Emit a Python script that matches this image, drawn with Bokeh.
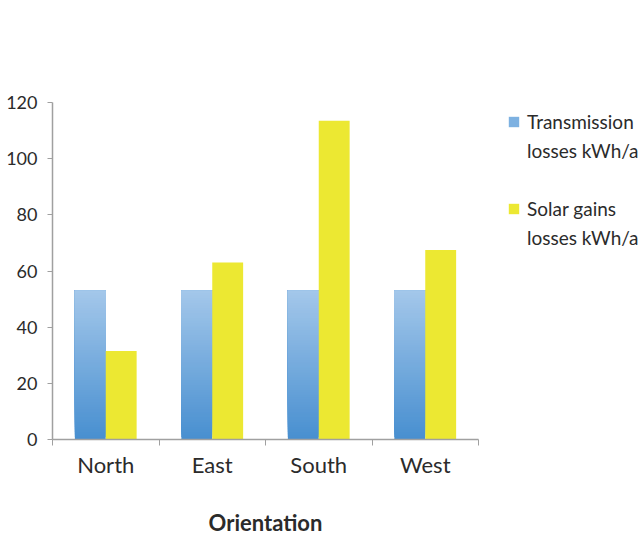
from bokeh.plotting import figure
from bokeh.models import FixedTicker, Legend, LegendItem
from bokeh.embed import file_html
from bokeh.resources import INLINE

categories = ["North", "East", "South", "West"]
transmission = [53, 53, 53, 53]
solar = [31.5, 63, 113.5, 67.5]
y_ticks = [0, 20, 40, 60, 80, 100, 120]
legend_lines = [["Transmission", "losses kWh/a"], ["Solar gains", "losses kWh/a"]]

FONT = "Lato"
BAR_W = 0.29
AXIS_COLOR = "#a0a0a0"
TEXT_COLOR = "#2b2b2b"

p = figure(frame_width=426, frame_height=337, x_range=(0, 4), y_range=(0, 120),
           output_backend="svg", toolbar_location=None,
           min_border_left=52, min_border_top=102, min_border_bottom=94,
           min_border_right=150)
p.outline_line_color = None
p.xgrid.visible = False
p.ygrid.visible = False
p.background_fill_color = "white"

centers = [i + 0.5 for i in range(len(categories))]
blue_x = [c - BAR_W / 2 for c in centers]
yel_x = [c + BAR_W / 2 for c in centers]

# gradient for blue bars: overlapping slices, each reaching the bar top
N = 60
top_c = (0xA3, 0xC7, 0xEA)
bot_c = (0x48, 0x8F, 0xD0)
xs, bots, tops, cols = [], [], [], []
for x, v in zip(blue_x, transmission):
    for k in range(N):
        t = k / (N - 1)
        c = tuple(int(round(bot_c[j] + (top_c[j] - bot_c[j]) * t)) for j in range(3))
        xs.append(x)
        bots.append(v * k / N)
        tops.append(v)
        cols.append("#%02x%02x%02x" % c)
p.vbar(x=xs, bottom=bots, top=tops, width=BAR_W, fill_color=cols, line_color=None)
r_yel = p.vbar(x=yel_x, top=solar, width=BAR_W, fill_color="#ece832", line_color=None)

# legend proxies
r_blue_leg = p.vbar(x=[blue_x[0]], top=[0], width=BAR_W, fill_color="#7db1e1", line_color=None)
r_blank = p.vbar(x=[blue_x[0]], top=[0], width=BAR_W, fill_alpha=0, line_alpha=0)

items = [
    LegendItem(label=legend_lines[0][0], renderers=[r_blue_leg]),
    LegendItem(label=legend_lines[0][1], renderers=[r_blank]),
    LegendItem(label=" ", renderers=[r_blank]),
    LegendItem(label=legend_lines[1][0], renderers=[r_yel]),
    LegendItem(label=legend_lines[1][1], renderers=[r_blank]),
]
legend = Legend(items=items, location=(29, 187), orientation="vertical")
legend.border_line_color = None
legend.background_fill_alpha = 0
legend.padding = 0
legend.margin = 0
legend.glyph_width = 13
legend.glyph_height = 13
legend.label_standoff = 7
legend.spacing = 0
legend.label_height = 29
legend.label_text_font = FONT
legend.label_text_font_size = "19px"
legend.label_text_color = TEXT_COLOR
p.add_layout(legend, "right")

# x axis
xa = p.xaxis[0]
xa.ticker = FixedTicker(ticks=centers, minor_ticks=[0, 1, 2, 3, 4])
xa.major_label_overrides = {c: n for c, n in zip(centers, categories)}
xa.major_tick_line_color = None
xa.minor_tick_line_color = AXIS_COLOR
xa.minor_tick_out = 6
xa.minor_tick_in = 0
xa.axis_line_color = AXIS_COLOR
xa.axis_line_width = 1.5
xa.major_label_text_font = FONT
xa.major_label_text_font_size = "22px"
xa.major_label_text_color = TEXT_COLOR
xa.major_label_standoff = 5
xa.axis_label = "Orientation"
xa.axis_label_text_font = FONT
xa.axis_label_text_font_style = "bold"
xa.axis_label_text_font_size = "22px"
xa.axis_label_text_color = TEXT_COLOR
xa.axis_label_standoff = 28

ya = p.yaxis[0]
ya.ticker = FixedTicker(ticks=y_ticks, minor_ticks=[])
ya.major_tick_out = 5
ya.major_tick_in = 0
ya.major_tick_line_color = AXIS_COLOR
ya.axis_line_color = AXIS_COLOR
ya.axis_line_width = 1.5
ya.major_label_text_font = FONT
ya.major_label_text_font_size = "18px"
ya.major_label_text_color = TEXT_COLOR
ya.major_label_standoff = 10

open("out.html", "w").write(file_html(p, INLINE))
